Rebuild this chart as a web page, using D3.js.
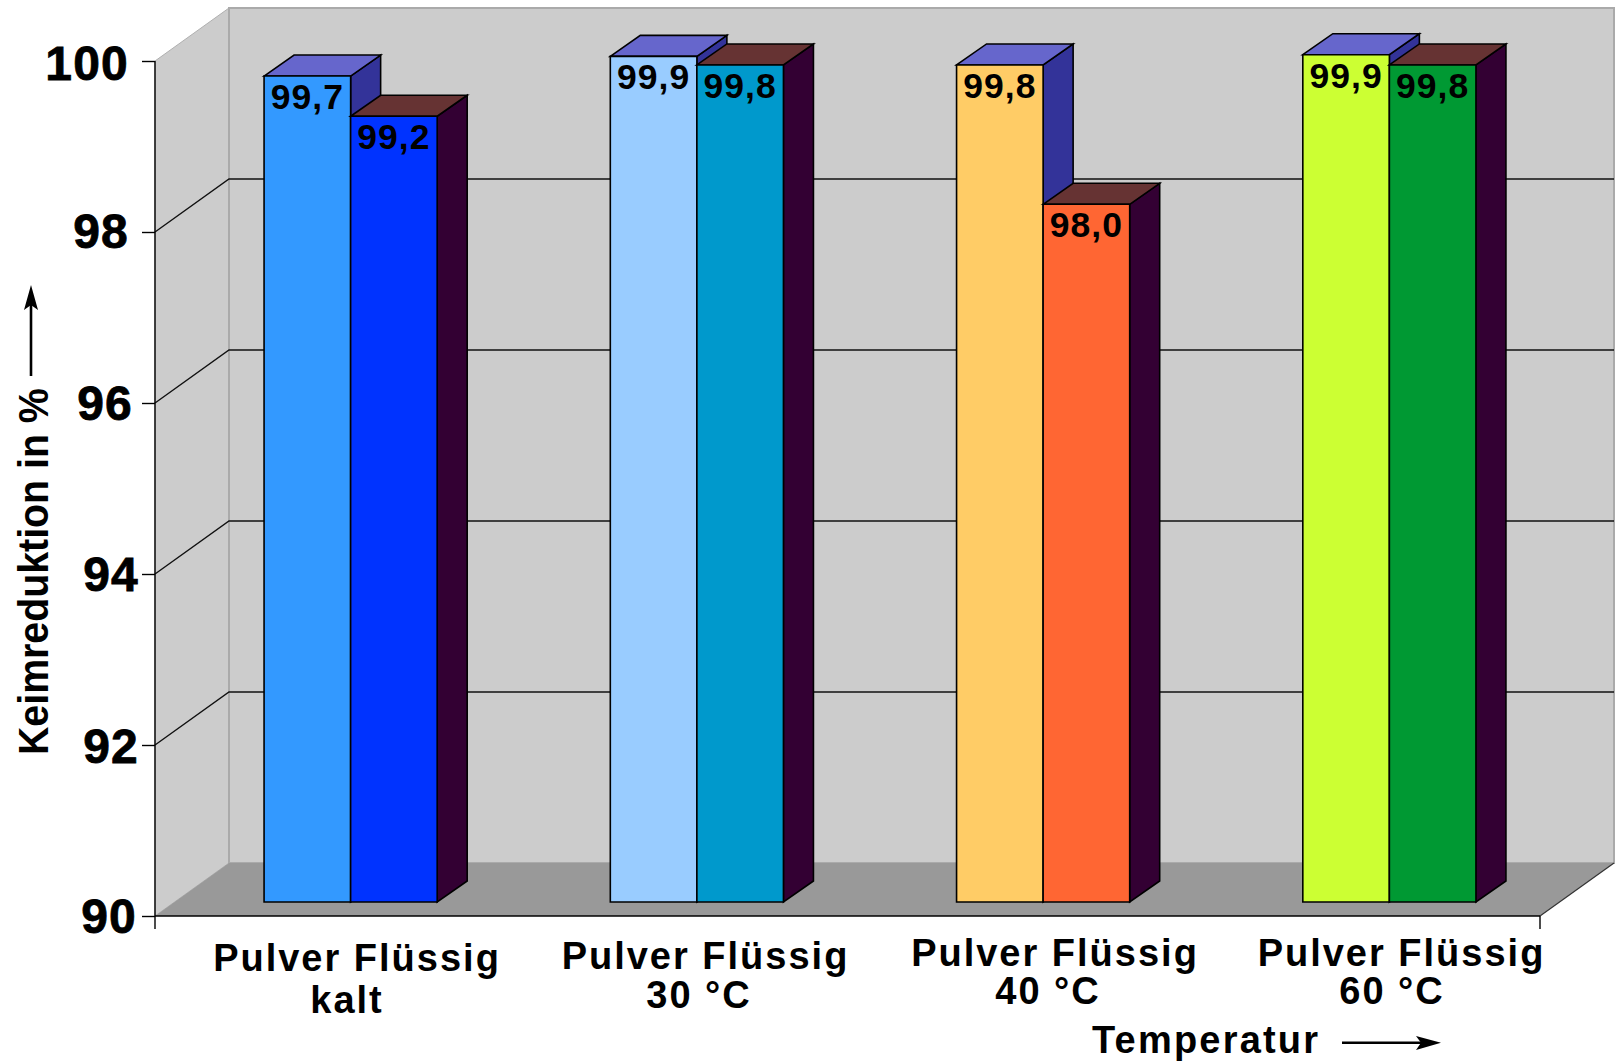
<!DOCTYPE html>
<html><head><meta charset="utf-8">
<script src="https://cdn.jsdelivr.net/npm/d3@7"></script>
<style>html,body{margin:0;padding:0;background:#fff}svg{display:block}text{font-family:"Liberation Sans",Arial,sans-serif;font-weight:bold;fill:#000}</style>
</head><body><svg id="c" width="1617" height="1063"></svg>
<script>
const groups = ["kalt","30 °C","40 °C","60 °C"];
const kinds = ["Pulver","Flüssig"];
const pulverHeights = [99.66,99.89,99.79,99.91];
const fluessigHeights = [99.19,99.79,98.16,99.79];
const pulverLabels = ["99,7","99,9","99,8","99,9"];
const fluessigLabels = ["99,2","99,8","98,0","99,8"];
const pulverFront = ["#3399ff","#99ccff","#ffcc66","#ccff33"];
const fluessigFront = ["#0033ff","#0099cc","#ff6633","#009933"];
const pulverTop = "#6666cc", pulverSide = "#333399";
const fluessigTop = "#663333", fluessigSide = "#330033";
const yTicks = [90,92,94,96,98,100];
const categoryLine = "Pulver Flüssig";

const svg = d3.select("#c");
const W=74,H=53,dx=30,dy=21;
const y = d3.scaleLinear().domain([90,100]).range([916,61]);
const yBar = d3.scaleLinear().domain([90,100]).range([902,47]);
const x0 = d3.scaleBand().domain(groups).range([177.5,1562.5]).paddingInner(.5).paddingOuter(.25);
const x1 = d3.scaleBand().domain(kinds).range([0,x0.bandwidth()]);
const poly = (pts,fill,stroke,sw)=>svg.append("polygon").attr("points",pts.map(p=>p.join(",")).join(" ")).attr("fill",fill).attr("stroke",stroke||"none").attr("stroke-width",sw||0);

const xl=155,xr=1540,yb=y(90),yt=y(100);
poly([[xl,yb],[xl+W,yb-H],[xl+W,yt-H],[xl,yt]],"#cccccc","#b0b0b0",1);
poly([[xl+W,yb-H],[xr+W,yb-H],[xr+W,yt-H],[xl+W,yt-H]],"#cccccc","#aaaaaa",2);
poly([[xl,yb],[xr,yb],[xr+W,yb-H],[xl+W,yb-H]],"#999999");
yTicks.filter(t=>t>90&&t<100).forEach(t=>{
  svg.append("path").attr("d",`M${xl},${y(t)}L${xl+W},${y(t)-H}H${xr+W}`).attr("fill","none").attr("stroke","#111").attr("stroke-width",1.4);
});
svg.append("path").attr("d",`M${xr},${yb}L${xr+W},${yb-H}`).attr("stroke","#333").attr("stroke-width",1.2);

const tickLabelShift = [5,7,7,1,-3,-3];
const tickLabelRise = [2,1,2,2,3,0];
const ax = svg.append("g").attr("transform",`translate(${xl},0)`).call(d3.axisLeft(y).tickValues(yTicks).tickSize(13).tickPadding(10));
ax.selectAll("path").remove();
ax.selectAll("line").attr("stroke","#000").attr("stroke-width",1.4);
ax.selectAll("text").attr("font-size",48).attr("fill","#000").attr("stroke","#000").attr("stroke-width",0.8)
  .attr("letter-spacing",1.2).attr("dy","0.38em").attr("dx",(d,i)=>tickLabelShift[i])
  .attr("y",(d,i)=>-tickLabelRise[i])
  .style("font-family",'"Liberation Sans"').style("font-weight","bold");
svg.append("line").attr("x1",xl).attr("x2",xl).attr("y1",yt).attr("y2",yb+13).attr("stroke","#000").attr("stroke-width",1.4);
svg.append("line").attr("x1",xl).attr("x2",xr).attr("y1",yb).attr("y2",yb).attr("stroke","#000").attr("stroke-width",1.6);
svg.append("line").attr("x1",xr).attr("x2",xr).attr("y1",yb).attr("y2",yb+13).attr("stroke","#000").attr("stroke-width",1.4);

function bar(g,i,kind,val,front,top,side,label){
  const a=x0(g)+x1(kind), b=a+x1.bandwidth(), t=yBar(val), bt=yBar(90);
  poly([[b,t],[b+dx,t-dy],[b+dx,bt-dy],[b,bt]],side,"#000",1.6);
  poly([[a,t],[a+dx,t-dy],[b+dx,t-dy],[b,t]],top,"#000",1.6);
  poly([[a,t],[b,t],[b,bt],[a,bt]],front,"#000",1.6);
  svg.append("text").attr("x",(a+b)/2).attr("y",t+33).attr("text-anchor","middle").attr("font-size",35.5).attr("letter-spacing",1).text(label);
}
groups.forEach((g,i)=>{
  bar(g,i,"Pulver",pulverHeights[i],pulverFront[i],pulverTop,pulverSide,pulverLabels[i]);
  bar(g,i,"Flüssig",fluessigHeights[i],fluessigFront[i],fluessigTop,fluessigSide,fluessigLabels[i]);
});

const line1X=[357,705.5,1055,1401.5], line1Y=[971,969,966,966];
const line2X=[347,699,1048,1392], line2Y=[1013,1008,1004,1004];
groups.forEach((g,i)=>{
  svg.append("text").attr("x",line1X[i]).attr("y",line1Y[i]).attr("text-anchor","middle").attr("font-size",38).attr("letter-spacing",2).text(categoryLine);
  svg.append("text").attr("x",line2X[i]).attr("y",line2Y[i]).attr("text-anchor","middle").attr("font-size",38).attr("letter-spacing",2).text(g);
});
svg.append("text").attr("x",1092).attr("y",1053).attr("font-size",38).attr("letter-spacing",2.2).text("Temperatur");
svg.append("text").attr("transform","translate(48,755) rotate(-90) scale(0.936,1)").attr("font-size",42).text("Keimreduktion in %");
svg.append("line").attr("x1",1342).attr("x2",1425).attr("y1",1042.7).attr("y2",1042.7).attr("stroke","#000").attr("stroke-width",2.6);
svg.append("path").attr("d","M1441,1042.7L1416,1036L1421,1042.7L1416,1050Z").attr("fill","#000");
svg.append("line").attr("x1",31).attr("x2",31).attr("y1",376).attr("y2",300).attr("stroke","#000").attr("stroke-width",2.6);
svg.append("path").attr("d","M31,285L24,310L31,305L38,310Z").attr("fill","#000");
</script></body></html>
